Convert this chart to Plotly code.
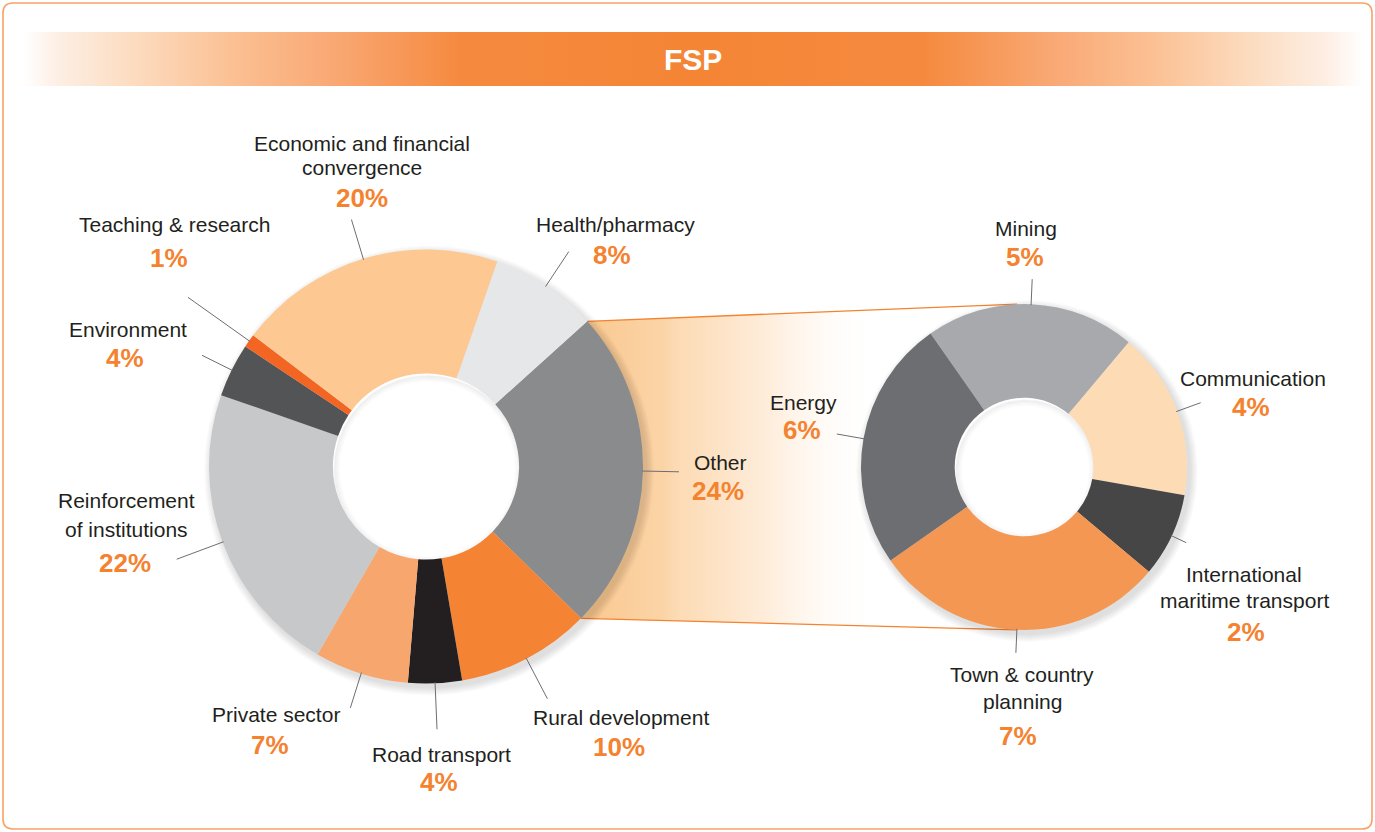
import numpy as np
import plotly.graph_objects as go

# ---------------- data ----------------
main_labels = ["Other", "Rural development", "Road transport", "Private sector",
               "Reinforcement<br>of institutions", "Environment", "Teaching & research",
               "Economic and financial<br>convergence", "Health/pharmacy"]
main_values = [24, 10, 4, 7, 22, 4, 1, 20, 8]
main_colors = ["#8a8b8d", "#f48334", "#231f20", "#f7a66d", "#c7c8ca",
               "#535456", "#f26522", "#fdc892", "#e6e7e8"]

other_labels = ["Mining", "Communication", "International<br>maritime transport",
                "Town & country<br>planning", "Energy"]
other_values = [5, 4, 2, 7, 6]
other_colors = ["#a7a9ac", "#fddcb5", "#464646", "#f49753", "#6d6e71"]

title_text = "FSP"

# ---------------- layout constants ----------------
W, H = 1375, 832
FONT = "Liberation Sans, Arial, Helvetica, sans-serif"
TXT = "#231f20"
ORANGE = "#f4822f"
LEADER = "#6d6e71"
NAME_SIZE = 21
PCT_SIZE = 26

L_CX, L_CY, L_R, L_HOLE, L_ROT = 426, 466.5, 217, 0.429, 48
R_CX, R_CY, R_R, R_HOLE, R_ROT = 1024, 467, 163, 0.425, -35

# label layout: name_x, first baseline, line gap, pct_x, pct baseline, leader outer radius
main_label_pos = [
    (720, 470, 27, 718, 500, 253),     # Other
    (621, 725, 27, 619, 756, 262),     # Rural
    (441, 762, 27, 439, 791, 263),     # Road
    (276, 722, 27, 270, 754, 253),     # Private
    (126, 508, 29, 125, 572, 266),     # Reinforcement
    (128, 337, 27, 125, 367, 250),     # Environment
    (174, 232, 27, 169, 267, 292),     # Teaching
    (362, 151, 24, 362, 207, 258),     # Economic
    (615, 232, 27, 612, 264, 258),     # Health
]
other_label_pos = [
    (1026, 236, 27, 1025, 266, 188),   # Mining
    (1253, 386, 27, 1251, 416, 188),   # Communication
    (1244, 582, 26, 1246, 641, 179),   # International
    (1022, 682, 27, 1018, 745, 186),   # Town
    (803, 410, 27, 802, 439, 190),     # Energy
]


def polar(cx, cy, r, ang):
    a = np.deg2rad(ang)
    return cx + r * np.sin(a), cy - r * np.cos(a)


def mid_angles(values, rot):
    tot = float(sum(values))
    out, acc = [], rot
    for v in values:
        span = 360.0 * v / tot
        out.append(acc + span / 2)
        acc += span
    return out


def circle_xy(cx, cy, r, n=241):
    th = np.linspace(0, 2 * np.pi, n)
    return cx + r * np.sin(th), cy - r * np.cos(th)


fig = go.Figure()

# ---------------- banner ----------------
bx0, bx1, by0, by1 = 22, 1363, 32, 86
half = [[0.0, "rgba(255,255,255,1)"], [0.028, "#fdeee3"], [0.083, "#fcdcc0"],
        [0.157, "#fbc093"], [0.232, "#f9a874"], [0.327, "#f58a3f"], [0.5, "#f48535"]]
banner_scale = half + [[1 - p, c] for p, c in reversed(half[:-1])]
fig.add_trace(go.Scatter(
    x=[bx0, bx1, bx1, bx0, bx0], y=[by0, by0, by1, by1, by0],
    mode="lines", fill="toself", line=dict(width=0),
    fillgradient=dict(type="horizontal", colorscale=banner_scale, start=bx0, stop=bx1),
    hoverinfo="skip", showlegend=False))

# ---------------- connector (zoom of "Other") ----------------
tot = float(sum(main_values))
lt = polar(L_CX, L_CY, L_R, L_ROT)
lb = polar(L_CX, L_CY, L_R, L_ROT + 360 * main_values[0] / tot)
rt = polar(R_CX, R_CY, R_R, -2.4)
rb = polar(R_CX, R_CY, R_R, 182.4)
fig.add_trace(go.Scatter(
    x=[lt[0], rt[0], rb[0], lb[0], lt[0]], y=[lt[1], rt[1], rb[1], lb[1], lt[1]],
    mode="lines", fill="toself", line=dict(width=0),
    fillgradient=dict(type="horizontal",
                      colorscale=[[0, "#f9c68c"], [0.3, "#fbd4a6"], [0.34, "#fcdab3"],
                                  [0.65, "#feeedd"], [1, "rgba(255,255,255,0)"]],
                      start=570, stop=880),
    hoverinfo="skip", showlegend=False))
for a, b in [(lt, rt), (lb, rb)]:
    fig.add_trace(go.Scatter(x=[a[0], b[0]], y=[a[1], b[1]], mode="lines",
                             line=dict(color=ORANGE, width=1.3),
                             hoverinfo="skip", showlegend=False))

# ---------------- soft shadows (under pies) ----------------
for cx, cy, R, hole in [(L_CX, L_CY, L_R, L_HOLE), (R_CX, R_CY, R_R, R_HOLE)]:
    for k in range(1, 9):
        xs, ys = circle_xy(cx + 3, cy + 4, R + k)
        fig.add_trace(go.Scatter(x=xs, y=ys, mode="lines", fill="toself",
                                 fillcolor="rgba(0,0,0,0.016)", line=dict(width=0),
                                 hoverinfo="skip", showlegend=False))
    rin = R * hole
    # clear the hole back to white
    xs, ys = circle_xy(cx, cy, rin + 6)
    fig.add_trace(go.Scatter(x=xs, y=ys, mode="lines", fill="toself",
                             fillcolor="white", line=dict(width=0),
                             hoverinfo="skip", showlegend=False))
    # inset shadow at the hole's upper-left rim
    for k in range(0, 6):
        xs, ys = circle_xy(cx + 1.5, cy + 2.5, rin - k)
        fig.add_trace(go.Scatter(x=xs, y=ys, mode="lines",
                                 line=dict(color=f"rgba(0,0,0,{0.045 - 0.007 * k:.3f})", width=1.6),
                                 hoverinfo="skip", showlegend=False))

# ---------------- pies ----------------
def dom(cx, cy, R):
    return dict(x=[(cx - R) / W, (cx + R) / W], y=[1 - (cy + R) / H, 1 - (cy - R) / H])

fig.add_trace(go.Pie(labels=main_labels, values=main_values, hole=L_HOLE, sort=False,
                     direction="clockwise", rotation=L_ROT, textinfo="none",
                     marker=dict(colors=main_colors, line=dict(width=0)),
                     domain=dom(L_CX, L_CY, L_R), hoverinfo="label+percent",
                     showlegend=False))
fig.add_trace(go.Pie(labels=other_labels, values=other_values, hole=R_HOLE, sort=False,
                     direction="clockwise", rotation=R_ROT, textinfo="none",
                     marker=dict(colors=other_colors, line=dict(width=0)),
                     domain=dom(R_CX, R_CY, R_R), hoverinfo="label+percent",
                     showlegend=False))

# ---------------- labels and leaders ----------------
def add_text(x, baseline, text, size, color, bold=False):
    fig.add_annotation(x=x, y=baseline - 0.3465 * size, xref="x", yref="y",
                       text=f"<b>{text}</b>" if bold else text, showarrow=False,
                       xanchor="center", yanchor="middle",
                       font=dict(family=FONT, size=size, color=color))


def add_labels(labels, values, pos, cx, cy, R, rot):
    mids = mid_angles(values, rot)
    for lab, v, p, m in zip(labels, values, pos, mids):
        nx, nb, gap, px, pb, lr = p
        for i, line in enumerate(lab.split("<br>")):
            add_text(nx, nb + i * gap, line, NAME_SIZE, TXT)
        add_text(px, pb, f"{v}%", PCT_SIZE, ORANGE, bold=True)
        x0, y0 = polar(cx, cy, R - 1, m)
        x1, y1 = polar(cx, cy, lr, m)
        fig.add_shape(type="line", xref="x", yref="y", x0=x0, y0=y0, x1=x1, y1=y1,
                      line=dict(color=LEADER, width=1), layer="above")


add_labels(main_labels, main_values, main_label_pos, L_CX, L_CY, L_R, L_ROT)
add_labels(other_labels, other_values, other_label_pos, R_CX, R_CY, R_R, R_ROT)

# title
add_text((bx0 + bx1) / 2, 70, title_text, 30, "white", bold=True)

# ---------------- frame ----------------
fx0, fy0, fx1, fy1, rr = 3, 3, 1372, 829, 10
frame_path = (f"M {fx0 + rr},{fy0} L {fx1 - rr},{fy0} Q {fx1},{fy0} {fx1},{fy0 + rr} "
              f"L {fx1},{fy1 - rr} Q {fx1},{fy1} {fx1 - rr},{fy1} L {fx0 + rr},{fy1} "
              f"Q {fx0},{fy1} {fx0},{fy1 - rr} L {fx0},{fy0 + rr} Q {fx0},{fy0} {fx0 + rr},{fy0} Z")
fig.add_shape(type="path", path=frame_path, xref="x", yref="y",
              line=dict(color="#f7a26a", width=1.6), layer="below")

fig.update_layout(
    width=W, height=H, margin=dict(l=0, r=0, t=0, b=0),
    paper_bgcolor="white", plot_bgcolor="white",
    xaxis=dict(range=[0, W], visible=False, fixedrange=True),
    yaxis=dict(range=[H, 0], visible=False, fixedrange=True),
    showlegend=False,
)

fig.write_html("out.html", config={"displayModeBar": False},
               post_script="document.body.style.margin='0';")
